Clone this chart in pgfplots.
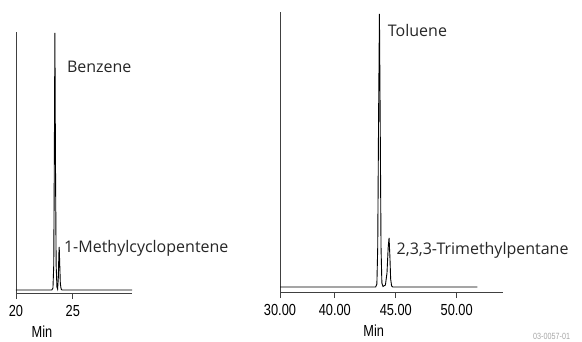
\documentclass[border=0pt]{standalone}
\usepackage{fontspec}
\setmainfont{Open Sans}
\newfontfamily\tickfont[FakeStretch=0.8]{Liberation Sans}
\usepackage{pgfplots}
\pgfplotsset{compat=1.18}
\definecolor{axisgray}{HTML}{404040}
\definecolor{txt}{HTML}{262626}
\begin{document}
\begin{tikzpicture}
\useasboundingbox (0,0) rectangle (582pt,341pt);
\pgfplotsset{
  chrom/.style={
    scale only axis,
    anchor=south west,
    axis x line*=bottom,
    axis y line*=left,
    ytick=\empty,
    tick align=outside,
    major tick length=6pt,
    clip=false,
    axis line style={axisgray, line width=0.8pt},
    x tick style={axisgray, line width=0.8pt},
    x tick label style={font=\tickfont\fontsize{16}{16}\selectfont, text=black, inner sep=0pt, yshift=-6pt},
    x label style={font=\tickfont\fontsize{16}{16}\selectfont, anchor=center},
  }
}
% Left panel
\begin{axis}[chrom,
  at={(16pt,48pt)}, width=116pt, height=261pt,
  xmin=20, xmax=30.2, ymin=-3, ymax=258,
  xtick={20,25}, xticklabels={20,25},
  xlabel={Min},
  x label style={at={(axis description cs:0.224,0)}, yshift=-39pt},
]
\addplot[black, line width=0.9pt] coordinates {
(20,0) (23.15,0) (23.25,2) (23.32,25) (23.37,130) (23.42,257) (23.47,130) (23.53,25) (23.60,3) (23.66,1) (23.72,12) (23.77,36) (23.80,43) (23.84,28) (23.90,6) (23.97,1) (24.05,0) (30.2,0)
};
\node[anchor=base west, inner sep=0pt, font=\fontsize{16}{16}\selectfont, text=txt] at (axis cs:24.47,218) {Benzene};
\node[anchor=base west, inner sep=0pt, font=\fontsize{16}{16}\selectfont, text=txt] at (axis cs:24.21,38) {1-Methylcyclopentene};
\end{axis}
% Right panel
\begin{axis}[chrom,
  at={(280pt,49pt)}, width=223pt, height=280pt,
  xmin=35.5, xmax=53.8, ymin=-5, ymax=275,
  xtick={35.5,40,45,50}, xticklabels={30.00,40.00,45.00,50.00},
  xlabel={Min},
  x label style={at={(axis description cs:0.42,0)}, yshift=-39pt},
]
\addplot[black, line width=0.9pt] coordinates {
(35.5,0) (43.35,0) (43.45,3) (43.52,40) (43.59,170) (43.66,273) (43.72,170) (43.79,40) (43.86,4) (43.95,0.5) (44.15,2) (44.28,14) (44.38,40) (44.45,49) (44.52,30) (44.58,8) (44.66,1) (44.75,0) (51.7,0)
};
\node[anchor=base west, inner sep=0pt, font=\fontsize{16}{16}\selectfont, text=txt] at (axis cs:44.34,251) {Toluene};
\node[anchor=base west, inner sep=0pt, font=\fontsize{16}{16}\selectfont, text=txt] at (axis cs:45.06,32.5) {2,3,3-Trimethylpentane};
\end{axis}
\node[anchor=south west, inner sep=0pt, font=\tickfont\fontsize{9}{9}\selectfont, text=gray!70] at (533pt,1pt) {03-0057-01};
\end{tikzpicture}
\end{document}
